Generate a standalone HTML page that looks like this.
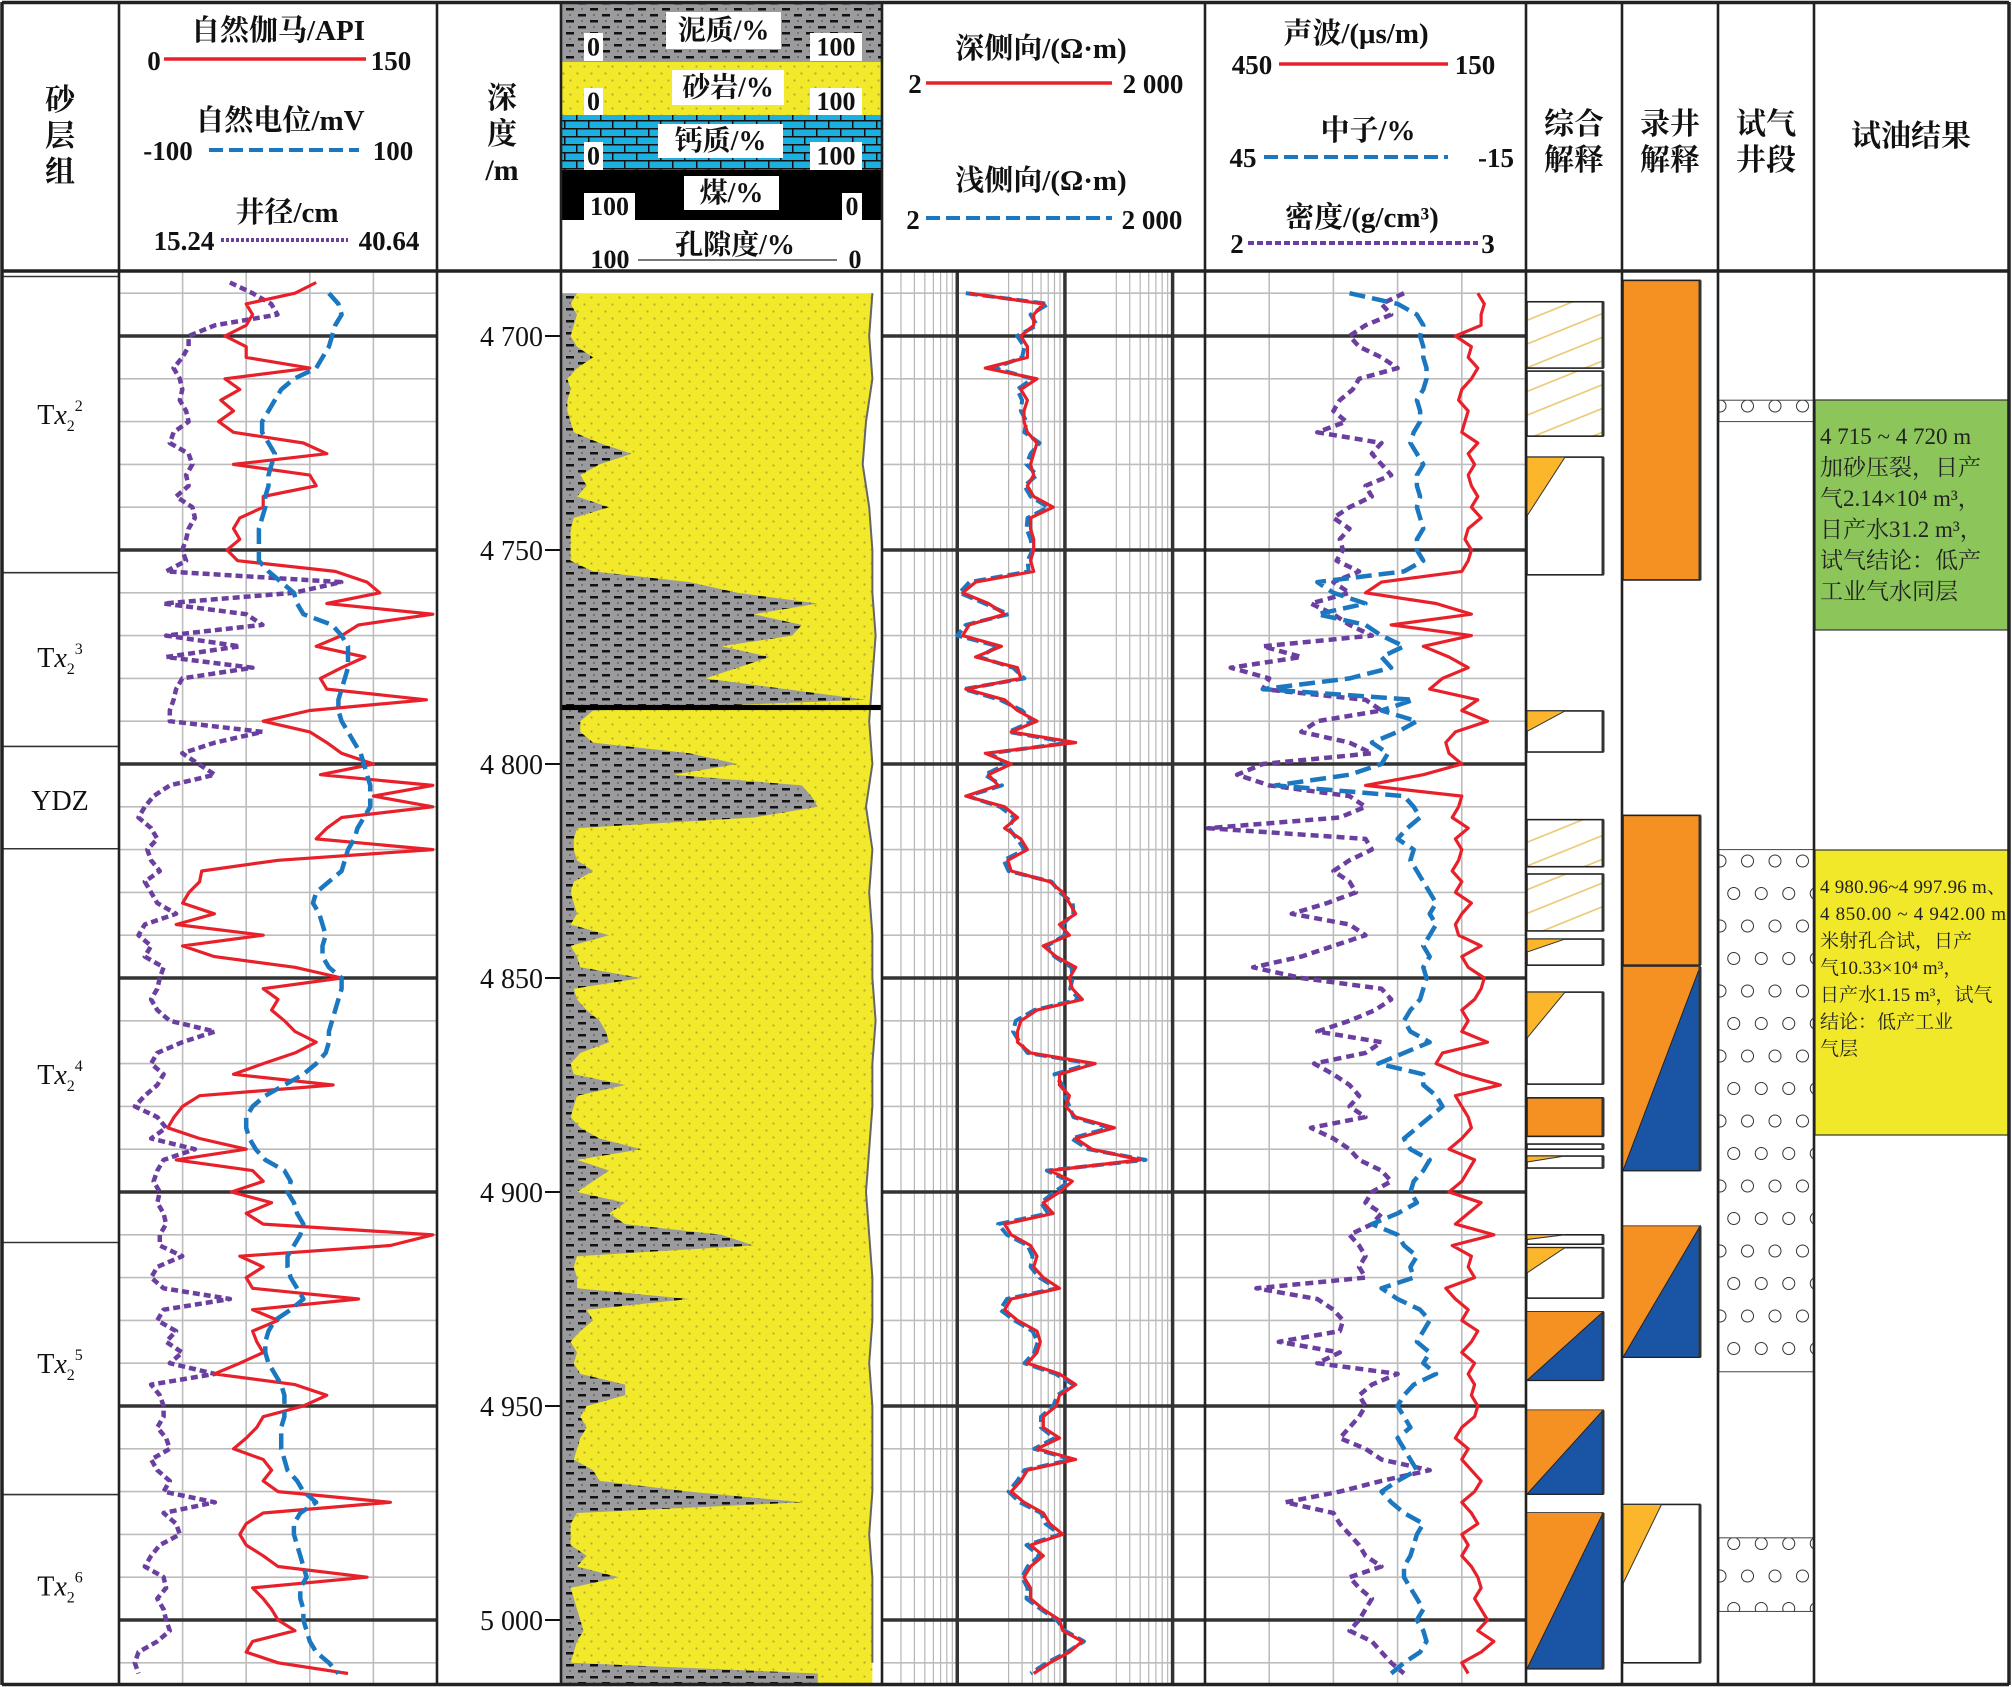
<!DOCTYPE html>
<html><head><meta charset="utf-8"><title>测井综合解释图</title>
<style>
html,body{margin:0;padding:0;background:#fff;}
svg{display:block;font-family:"Liberation Serif","Noto Serif CJK SC",serif;}
#headerLayer text{font-weight:bold;}
</style></head>
<body>
<svg id="chart" xmlns="http://www.w3.org/2000/svg" width="2012" height="1687" viewBox="0 0 2012 1687">
<defs>
<pattern id="shalePat" patternUnits="userSpaceOnUse" width="24" height="12"><rect width="24" height="12" fill="#9b9b9d"/><rect x="2" y="2" width="8" height="2.5" fill="#111"/><rect x="14" y="8" width="8" height="2.5" fill="#111"/><circle cx="18" cy="3" r="0.9" fill="#555"/><circle cx="6" cy="9" r="0.9" fill="#555"/></pattern>
<pattern id="sandPat" patternUnits="userSpaceOnUse" width="14" height="14"><rect width="14" height="14" fill="#f1e92a"/><circle cx="3.5" cy="3.5" r="1.1" fill="#b8a83a"/><circle cx="10.5" cy="10.5" r="1.1" fill="#b8a83a"/></pattern>
<pattern id="limePat" patternUnits="userSpaceOnUse" width="24" height="16"><rect width="24" height="16" fill="#1bb0e0"/><path d="M0 0.75H24M0 8.75H24M0.75 0V8M12.75 8V16" stroke="#111" stroke-width="1.5"/></pattern>
<pattern id="hatchPat" patternUnits="userSpaceOnUse" width="22" height="22" patternTransform="rotate(-22)"><rect width="22" height="22" fill="#fff"/><path d="M0 11H22" stroke="#e9c46a" stroke-width="1.5"/></pattern>
<pattern id="circPat" patternUnits="userSpaceOnUse" x="1720" y="0" width="27.5" height="65"><circle cx="0" cy="16" r="6" fill="none" stroke="#333" stroke-width="1"/><circle cx="27.5" cy="16" r="6" fill="none" stroke="#333" stroke-width="1"/><circle cx="13.75" cy="48.5" r="6" fill="none" stroke="#333" stroke-width="1"/></pattern>
<clipPath id="clipT1"><rect x="120" y="272" width="316" height="1411"/></clipPath>
<clipPath id="clipLith"><rect x="562" y="272" width="319" height="1411"/></clipPath>
<clipPath id="clipRes"><rect x="883" y="272" width="321" height="1411"/></clipPath>
<clipPath id="clipSon"><rect x="1206" y="272" width="319" height="1411"/></clipPath>
</defs>
<rect x="0" y="0" width="2012" height="1687" fill="#fff"/>
<g id="bodyLayer"></g>
<g id="headerLayer"></g>
</svg>
<script>
// ---- Sample grid (m) ----
const DEPTH_START = 4687.5;
const DEPTH_STEP = 2.5;
const DEPTH_TICKS = [4700, 4750, 4800, 4850, 4900, 4950, 5000];
const DEPTH_TICK_LABELS = ["4 700", "4 750", "4 800", "4 850", "4 900", "4 950", "5 000"];

// ---- Track 1 ----
const gammaRay = [93,83,60,63,60,50,60,60,90,50,57,48,54,47,54,87,98,54,90,93,68,68,57,54,57,51,56,102,117,123,98,148,113,105,93,116,105,95,98,145,90,68,90,98,105,120,95,148,120,148,105,98,93,148,75,39,38,33,30,45,27,68,30,45,83,105,68,75,72,78,83,93,83,68,54,101,38,30,26,23,38,60,27,63,68,53,72,60,68,148,128,57,68,60,63,113,63,75,63,65,68,57,45,83,98,87,68,65,60,54,68,72,68,75,128,68,60,57,60,68,75,117,63,68,72,75,83,63,60,75,108];
const spontPotential = [null,32,38,40,36,34,32,28,24,10,2,-2,-6,-10,-10,-6,-2,-4,-6,-6,-8,-8,-10,-12,-12,-12,-12,-6,2,10,12,16,34,40,44,44,44,42,40,38,38,40,44,48,52,54,56,58,58,58,54,50,48,44,42,40,32,24,22,26,28,30,28,28,32,40,40,38,36,34,32,32,30,24,16,4,-8,-16,-20,-20,-18,-14,-8,4,8,6,10,12,16,14,10,6,6,8,12,16,8,-2,-6,-8,-8,-6,-2,2,4,4,4,2,2,2,4,6,12,16,24,14,10,10,12,14,16,18,14,14,16,16,18,20,24,32,38];
const caliper = [24.1,25.9,27.4,27.9,22.9,20.8,20.8,20.3,19.6,20.1,20.3,20.1,20.6,20.8,19.6,19.3,20.8,21.1,20.6,20.8,19.8,21.1,21.3,20.8,20.6,20.3,20.6,19.0,33.0,29.2,18.8,25.4,26.7,19.0,24.9,19.0,25.9,20.3,19.8,19.6,19.3,19.3,26.7,22.9,20.3,21.6,22.9,19.3,18.0,17.3,16.8,17.8,18.3,17.5,17.8,18.5,17.3,17.8,18.3,19.8,17.3,16.8,17.8,17.3,18.8,18.5,18.3,17.8,18.3,19.3,22.9,20.3,18.3,17.8,18.8,18.3,17.3,16.5,18.3,19.0,17.8,21.3,18.8,18.3,18.0,18.5,18.3,18.8,19.0,18.5,18.5,20.3,18.3,17.8,18.8,24.1,18.8,18.3,19.8,19.0,20.3,19.3,22.9,17.8,18.5,18.8,18.8,18.3,19.0,19.3,17.8,18.3,19.3,18.8,22.9,18.8,19.8,20.1,18.5,17.8,17.3,18.8,19.0,18.3,18.8,19.0,19.3,18.3,16.8,16.5,16.8];

// ---- Lithology track ----
const shalePct = [null,5,3,5,4,3,5,10,5,2,3,2,2,3,4,12,22,12,6,8,5,15,4,3,3,3,3,10,40,55,80,60,75,72,50,65,55,45,70,95,10,6,6,10,40,55,35,75,78,80,60,5,4,4,5,10,4,3,4,5,3,15,3,5,6,25,4,5,8,12,14,15,6,3,4,20,5,4,3,6,12,25,5,15,10,5,20,15,20,50,60,5,4,5,5,40,8,10,6,3,5,4,6,20,20,8,6,8,6,5,4,10,12,40,75,5,3,3,3,8,5,18,3,4,5,6,7,5,4,3,80];
const POR_START = 4690;
const POR_STEP = 10;
const porosityPct = [3,4,3,5,6,4,3,3,2,3,4,3,5,3,4,3,3,2,3,3,4,5,4,3,3,4,3,3,3,4,3,3,3];
const coalBeds = [[4786.2, 4787.4]];

// ---- Resistivity (ohm.m) ----
const deepRes = [null,12.9,63,51.3,51.3,38.9,44.8,44.8,18.2,55,38.9,44.8,41.7,41.7,44.8,55,51.3,47.9,51.3,44.8,51.3,77.6,47.9,47.9,51.3,51.3,47.9,51.3,14.8,11.2,19.5,27.5,12.9,11.2,25.7,14.8,36.3,38.9,12,27.5,36.3,55,31.7,126,18.2,31.7,19.5,24,12,27.5,36.3,27.5,38.9,44.8,29.5,31.7,72.4,95.5,110,126,89,110,63,83,126,110,117,145,55,38.9,36.3,36.3,47.9,191,89,89,110,102,126,288,126,178,501,72.4,117,89,63,77.6,27.5,31.7,47.9,55,51.3,63,89,31.7,27.5,36.3,55,59,55,44.8,89,126,89,83,63,63,89,55,126,44.8,38.9,31.7,41.7,63,72.4,95.5,47.9,63,47.9,41.7,47.9,47.9,63,89,95.5,145,110,72.4,51.3];
const shallowRes = [null,12,70,48,55,36,42,40,22,50,36,40,39,44,42,58,48,44,55,42,48,70,45,44,48,50,45,46,13,10.5,18,30,12,10,24,16,33,42,11.5,25,40,50,30,110,20,29,18,26,12.5,25,34,30,36,42,27,30,75,90,118,120,95,100,68,80,115,118,112,135,52,35,33,38,45,175,80,95,100,110,120,260,115,165,560,68,110,80,60,70,24,29,45,50,48,58,84,29,25,34,50,56,52,42,82,120,85,78,60,60,80,52,115,42,36,30,38,60,66,90,44,58,45,40,45,44,60,84,100,150,105,68,48];

// ---- Sonic / neutron / density ----
const sonic = [null,195,189,192,192,216,201,204,195,201,210,213,204,207,210,195,204,198,204,201,195,201,192,204,207,201,204,210,285,300,234,201,276,201,246,222,204,228,240,195,210,186,216,225,222,210,246,300,210,213,219,204,216,210,213,219,210,216,201,210,216,213,192,210,204,189,192,198,210,204,210,186,228,234,210,174,216,210,204,201,210,222,198,204,210,222,192,204,216,180,219,201,204,198,225,216,204,210,195,201,210,198,204,198,201,195,198,210,216,204,210,201,192,198,210,201,195,210,204,210,201,195,192,198,192,186,195,180,192,210,204];
const neutron = [null,18,9,5.4,4.2,4.8,4.2,4.2,3.6,3.6,4.2,5.4,4.8,4.8,6,6.6,5.4,4.2,5.4,5.4,4.8,5.4,4.8,4.2,5.4,5.4,4.2,7.8,24,21,15,24,15,12,7.8,12,10.2,18,34.2,6,12,5.4,9,13.8,10.8,12,18,31.8,7.8,6,4.8,7.2,9,6,6.6,5.4,4.2,3,1.8,3,1.8,3,4.2,3,4.2,3.6,4.2,4.8,6.6,7.8,6.6,3,7.8,12.6,4.2,4.2,1.8,0.6,3,5.4,7.8,6.6,3,4.2,6,6.6,5.4,9,13.8,9,7.8,5.4,6.6,6,12,9,4.8,3,4.2,5.4,3,4.2,1.8,6,7.8,9,7.8,6.6,9,7.8,6.6,5.4,9,12,10.2,7.8,4.2,5.4,6,6.6,7.8,7.8,6.6,5.4,4.2,5.4,4.2,3.6,4.8,7.8,10.2];
const density = [null,2.62,2.55,2.58,2.50,2.45,2.48,2.55,2.60,2.48,2.46,2.42,2.40,2.44,2.35,2.55,2.52,2.55,2.58,2.50,2.52,2.45,2.40,2.45,2.42,2.43,2.41,2.48,2.40,2.45,2.33,2.40,2.45,2.52,2.18,2.30,2.08,2.20,2.18,2.50,2.55,2.35,2.30,2.45,2.52,2.18,2.10,2.20,2.45,2.50,2.42,2.01,2.50,2.52,2.45,2.40,2.45,2.47,2.38,2.27,2.45,2.50,2.40,2.30,2.15,2.30,2.55,2.58,2.53,2.45,2.35,2.55,2.50,2.34,2.40,2.45,2.48,2.45,2.50,2.33,2.40,2.45,2.48,2.55,2.58,2.52,2.50,2.55,2.52,2.45,2.48,2.50,2.48,2.50,2.16,2.35,2.40,2.43,2.42,2.23,2.42,2.35,2.60,2.52,2.48,2.50,2.48,2.45,2.42,2.50,2.55,2.70,2.55,2.42,2.25,2.40,2.42,2.45,2.48,2.50,2.55,2.45,2.48,2.52,2.50,2.48,2.45,2.52,2.55,2.58,2.62];

// ---- Interpretation columns: [top, bottom, type] ----
const compInterp = [[4692,4707.5,"hatch"],[4708.2,4723.4,"hatch"],[4728.3,4755.8,"tri"],[4787.6,4797.2,"tri"],[4813,4824,"hatch"],[4825.7,4839,"hatch"],[4840.9,4847,"tri"],[4853.3,4874.8,"tri"],[4878,4887,"orange"],[4888.8,4890,"white"],[4891.6,4894.4,"tri"],[4910,4912.2,"tri"],[4913,4924.8,"tri"],[4928,4944,"ob"],[4951,4970.6,"ob"],[4975,5011.4,"ob"]];
const mudLogInterp = [[4687,4757,"orange"],[4812,4847,"orange"],[4847.4,4895,"ob"],[4908,4938.6,"ob"],[4973,5010,"tri"]];
const gasTestIntervals = [[4715,4720],[4820,4942],[4980.8,4998]];
const layerTops = [4686.1, 4755.3, 4795.9, 4819.8, 4911.8, 4970.7];
const layerNames = [["Tx","2","2"],["Tx","2","3"],["YDZ","",""],["Tx","2","4"],["Tx","2","5"],["Tx","2","6"]];
const layerLabelDepths = [4718.2, 4775, 4808.4, 4872.4, 4939.9, 4991.9];

const NS = "http://www.w3.org/2000/svg";
const Y = d => 336 + (d - 4700) * 4.28;
const BODY_TOP = 271, BODY_BOT = 1684;
const depthAt = i => DEPTH_START + i * DEPTH_STEP;
const T1 = {x0:119, x1:437}, LITH = {x0:561, x1:882}, RES = {x0:882, x1:1205}, SON = {x0:1205, x1:1526};
const grX = v => T1.x0 + v / 150 * (T1.x1 - T1.x0);
const spX = v => T1.x0 + (v + 100) / 200 * (T1.x1 - T1.x0);
const calX = v => T1.x0 + (v - 15.24) / 25.4 * (T1.x1 - T1.x0);
const resX = v => RES.x0 + Math.log10(v / 2) / 3 * (RES.x1 - RES.x0);
const acX = v => SON.x0 + (450 - v) / 300 * (SON.x1 - SON.x0);
const cnlX = v => SON.x0 + (45 - v) / 60 * (SON.x1 - SON.x0);
const denX = v => SON.x0 + (v - 2) * (SON.x1 - SON.x0);
const shX = v => LITH.x0 + v / 100 * (LITH.x1 - LITH.x0);
const porX = v => LITH.x1 - v / 100 * (LITH.x1 - LITH.x0);

const body = document.getElementById('bodyLayer');
const head = document.getElementById('headerLayer');
function mk(tag, attrs, parent) {
  const e = document.createElementNS(NS, tag);
  for (const k in attrs) e.setAttribute(k, attrs[k]);
  (parent || body).appendChild(e);
  return e;
}
function txt(s, x, y, size, anchor, parent) {
  const t = mk('text', {x:x, y:y, 'font-size':size, 'text-anchor':anchor || 'middle', fill:'#111'}, parent);
  t.textContent = s;
  return t;
}
function curvePath(vals, xf) {
  let d = '';
  let pen = false;
  vals.forEach((v, i) => {
    if (v === null) { pen = false; return; }
    d += (pen ? 'L' : 'M') + xf(v).toFixed(1) + ' ' + Y(depthAt(i)).toFixed(1);
    pen = true;
  });
  return d;
}

// ---------- grids ----------
function hGrid(x0, x1, name) {
  for (let d = 4690; d <= 5010; d += 10) {
    const thick = d % 50 === 0;
    const l = mk('line', {x1:x0, x2:x1, y1:Y(d), y2:Y(d), stroke: thick ? '#333' : '#bdbdbd', 'stroke-width': thick ? 3.5 : 1.6});
    
    
  }
}
function vGrid(xs, name, color, w) {
  xs.forEach((x, i) => {
    const l = mk('line', {x1:x, x2:x, y1:BODY_TOP, y2:BODY_BOT, stroke:color, 'stroke-width':w});
    
    
  });
}
const t1w = (T1.x1 - T1.x0) / 5, sw = (SON.x1 - SON.x0) / 5;
vGrid([1,2,3,4].map(k => T1.x0 + k * t1w), 'track1', '#bdbdbd', 1.6);
vGrid([1,2,3,4].map(k => SON.x0 + k * sw), 'sonic-track', '#bdbdbd', 1.6);
const resMinor = [];
[2,20,200].forEach(b => { for (let m = 1.5; m <= 4.5; m += 0.5) { resMinor.push(b * m); } });
vGrid(resMinor.filter(v => v > 2 && v < 2000 && [10,100,1000].indexOf(v) < 0).map(resX), 'resistivity-track', '#b5b5b5', 1.2);
hGrid(T1.x0, T1.x1, 'track1');
hGrid(RES.x0, RES.x1, 'resistivity-track');
hGrid(SON.x0, SON.x1, 'sonic-track');
vGrid([10,100,1000].map(resX), 'resistivity-decade', '#333', 3.5);

// ---------- lithology ----------
const lithG = mk('g', {'clip-path':'url(#clipLith)'});


{
  let pts = [[LITH.x0, Y(POR_START)]];
  porosityPct.forEach((p, i) => pts.push([porX(p), Y(POR_START + i * POR_STEP)]));
  pts.push([porX(porosityPct[porosityPct.length - 1]), BODY_BOT]);
  pts.push([LITH.x0, BODY_BOT]);
  const sand = mk('polygon', {points: pts.map(p => p.join(',')).join(' '), fill:'url(#sandPat)'}, lithG);
  
  
  let pl = porosityPct.map((p, i) => porX(p).toFixed(1) + ',' + Y(POR_START + i * POR_STEP).toFixed(1)).join(' ');
  const porLine = mk('polyline', {points: pl, fill:'none', stroke:'#666', 'stroke-width':2}, lithG);
  
  
  let sp = [[LITH.x0, Y(4690)]];
  shalePct.forEach((v, i) => { if (v !== null) sp.push([shX(v), Y(depthAt(i))]); });
  sp.push([shX(shalePct[shalePct.length - 1]), BODY_BOT]);
  sp.push([LITH.x0, BODY_BOT]);
  const sh = mk('polygon', {points: sp.map(p => p[0].toFixed(1) + ',' + p[1].toFixed(1)).join(' '), fill:'url(#shalePat)'}, lithG);
  
  
  coalBeds.forEach((c, i) => {
    const r = mk('rect', {x:LITH.x0, y:Y(c[0]), width:LITH.x1 - LITH.x0, height:Y(c[1]) - Y(c[0]), fill:'#000'}, lithG);
    
    
  });
}

// ---------- curves ----------
function drawCurve(vals, xf, clip, color, width, dash, name) {
  const p = mk('path', {d: curvePath(vals, xf), fill:'none', stroke:color, 'stroke-width':width, 'stroke-dasharray':dash || 'none', 'stroke-linejoin':'round', 'clip-path':'url(#' + clip + ')'});
  
  
}
const RED = '#e8202a', BLUE = '#1b78c0', PURPLE = '#6b3fa0';
drawCurve(caliper, calX, 'clipT1', PURPLE, 4.5, '7 4', 'caliper-curve');
drawCurve(gammaRay, grX, 'clipT1', RED, 3.2, null, 'gamma-ray-curve');
drawCurve(spontPotential, spX, 'clipT1', BLUE, 4.5, '16 7', 'sp-curve');
drawCurve(shallowRes, resX, 'clipRes', BLUE, 4, '12 5', 'shallow-resistivity-curve');
drawCurve(deepRes, resX, 'clipRes', RED, 3.2, null, 'deep-resistivity-curve');
drawCurve(density, denX, 'clipSon', PURPLE, 4.5, '8 5', 'density-curve');
drawCurve(neutron, cnlX, 'clipSon', BLUE, 4.5, '16 7', 'neutron-curve');
drawCurve(sonic, acX, 'clipSon', RED, 3.2, null, 'sonic-curve');

// ---------- depth track ----------
DEPTH_TICKS.forEach((d, i) => {
  const t = txt(DEPTH_TICK_LABELS[i], 543, Y(d) + 10, 28, 'end');
  
  
  const l = mk('line', {x1:545, x2:561, y1:Y(d), y2:Y(d), stroke:'#111', 'stroke-width':2});
  
  
});

// ---------- formation column ----------
layerTops.forEach((d, i) => {
  const l = mk('line', {x1:2, x2:119, y1:Y(d), y2:Y(d), stroke:'#333', 'stroke-width':1.6});
  
  
});
layerNames.forEach((n, i) => {
  const y = Y(layerLabelDepths[i]) + 10;
  const t = mk('text', {x:60, y:y, 'font-size':28, 'text-anchor':'middle', fill:'#111'});
  
  
  if (n[1] === '') { t.textContent = n[0]; return; }
  const a = mk('tspan', {}, t); a.textContent = 'T';
  const b = mk('tspan', {'font-style':'italic'}, t); b.textContent = 'x';
  const c = mk('tspan', {'font-size':16, dy:7}, t); c.textContent = n[1];
  const e = mk('tspan', {'font-size':16, dy:-20, dx:0}, t); e.textContent = n[2];
});

// ---------- interpretation blocks ----------
function block(x0, x1, top, bot, type, name) {
  const y0 = Y(top), y1 = Y(bot), w = x1 - x0, h = y1 - y0;
  const g = mk('g', {});
  
  
  const fill = type === 'hatch' ? 'url(#hatchPat)' : type === 'orange' ? '#f49122' : '#fff';
  mk('rect', {x:x0, y:y0, width:w, height:h, fill:fill, stroke:'#222', 'stroke-width':1.6}, g);
  if (type === 'tri') {
    mk('polygon', {points: x0 + ',' + y0 + ' ' + (x0 + w / 2) + ',' + y0 + ' ' + x0 + ',' + (y0 + h / 2), fill:'#fbb62b', stroke:'#333', 'stroke-width':1}, g);
  }
  if (type === 'ob') {
    mk('polygon', {points: x0 + ',' + y0 + ' ' + x1 + ',' + y0 + ' ' + x0 + ',' + y1, fill:'#f49122'}, g);
    mk('polygon', {points: x1 + ',' + y0 + ' ' + x1 + ',' + y1 + ' ' + x0 + ',' + y1, fill:'#1a55a5', stroke:'#222', 'stroke-width':1}, g);
  }
  mk('line', {x1:x1, x2:x1, y1:y0, y2:y1, stroke:'#333', 'stroke-width':3}, g);
}
compInterp.forEach((b, i) => block(1527, 1603, b[0], b[1], b[2], 'comprehensive-interp-' + i));
mudLogInterp.forEach((b, i) => block(1623, 1700, b[0], b[1], b[2], 'mudlog-interp-' + i));
gasTestIntervals.forEach((b, i) => {
  const r = mk('rect', {x:1719, y:Y(b[0]), width:95, height:Y(b[1]) - Y(b[0]), fill:'url(#circPat)', stroke:'#444', 'stroke-width':1});
  
  
});

// ---------- test result boxes ----------
function resultBox(y0, y1, fill, lines, size, lh, firstY, name) {
  const g = mk('g', {});
  
  
  mk('rect', {x:1815, y:y0, width:193, height:y1 - y0, fill:fill, stroke:'#333', 'stroke-width':1.2}, g);
  lines.forEach((s, i) => {
    const t = mk('text', {x:1820, y:firstY + i * lh, 'font-size':size, 'text-anchor':'start', fill:'#222'}, g);
    t.textContent = s;
    if (s.length > 16) t.setAttribute('textLength', 186);
  });
}
resultBox(400, 630, '#8cc65a', ['4 715 ~ 4 720 m', '加砂压裂，日产', '气2.14×10⁴ m³，', '日产水31.2 m³，', '试气结论：低产', '工业气水同层'], 23, 31, 444, 'test-result-green');
resultBox(850, 1135, '#f2e82a', ['4 980.96~4 997.96 m、', '4 850.00 ~ 4 942.00 m', '米射孔合试，日产', '气10.33×10⁴ m³，', '日产水1.15 m³，试气', '结论：低产工业', '气层'], 19, 27, 893, 'test-result-yellow');

// ---------- header ----------
function hline(x1, x2, y, color, w, dash, name) {
  const l = mk('line', {x1:x1, x2:x2, y1:y, y2:y, stroke:color, 'stroke-width':w, 'stroke-dasharray':dash || 'none'}, head);
  
  
}
function htxt(s, x, y, size, anchor, name) {
  const t = txt(s, x, y, size, anchor, head);
  
  
  return t;
}
['砂', '层', '组'].forEach((c, i) => htxt(c, 60, 110 + i * 36, 30, 'middle', 'formation-header-' + i));
['深', '度', '/m'].forEach((c, i) => htxt(c, 502, 108 + i * 36, 30, 'middle', 'depth-header-' + i));
htxt('自然伽马/API', 278, 40, 29, 'middle', 'gr-title');
htxt('0', 154, 70, 27, 'middle', 'gr-min'); hline(164, 366, 59, RED, 3.5, null, 'gr-legend-line'); htxt('150', 391, 70, 27, 'middle', 'gr-max');
htxt('自然电位/mV', 280, 130, 29, 'middle', 'sp-title');
htxt('-100', 168, 160, 27, 'middle', 'sp-min'); hline(209, 359, 150, BLUE, 4, '14 6', 'sp-legend-line'); htxt('100', 393, 160, 27, 'middle', 'sp-max');
htxt('井径/cm', 287, 222, 29, 'middle', 'cal-title');
htxt('15.24', 184, 250, 27, 'middle', 'cal-min'); hline(221, 348, 240, PURPLE, 4, '3 2', 'cal-legend-line'); htxt('40.64', 389, 250, 27, 'middle', 'cal-max');

const bands = [[4, 62, 'url(#shalePat)', 'shale'], [62, 115, 'url(#sandPat)', 'sand'], [115, 170, 'url(#limePat)', 'lime'], [170, 220, '#000', 'coal']];
bands.forEach(b => {
  const r = mk('rect', {x:LITH.x0, y:b[0], width:LITH.x1 - LITH.x0, height:b[1] - b[0], fill:b[2]}, head);
  
  
});
function labelBox(s, x0, x1, y0, y1, size, name) {
  mk('rect', {x:x0, y:y0, width:x1 - x0, height:y1 - y0, fill:'#fff'}, head);
  htxt(s, (x0 + x1) / 2, y1 - (y1 - y0 - size * 0.72) / 2 - 1, size, 'middle', name);
}
labelBox('泥质/%', 666, 781, 12, 49, 28, 'shale-label'); labelBox('0', 584, 603, 33, 61, 26, 'shale-min'); labelBox('100', 810, 862, 33, 61, 26, 'shale-max');
labelBox('砂岩/%', 672, 784, 70, 105, 28, 'sand-label'); labelBox('0', 584, 603, 88, 115, 26, 'sand-min'); labelBox('100', 810, 862, 88, 115, 26, 'sand-max');
labelBox('钙质/%', 658, 783, 124, 158, 28, 'lime-label'); labelBox('0', 584, 603, 142, 170, 26, 'lime-min'); labelBox('100', 810, 862, 142, 170, 26, 'lime-max');
labelBox('煤/%', 684, 779, 176, 210, 28, 'coal-label'); labelBox('100', 584, 635, 193, 220, 26, 'coal-min'); labelBox('0', 842, 862, 193, 220, 26, 'coal-max');
htxt('100', 610, 268, 26, 'middle', 'porosity-min'); hline(638, 837, 260, '#777', 2, null, 'porosity-legend-line'); htxt('孔隙度/%', 735, 254, 28, 'middle', 'porosity-label'); htxt('0', 855, 268, 26, 'middle', 'porosity-max');

htxt('深侧向/(Ω·m)', 1041, 58, 29, 'middle', 'deep-res-title');
htxt('2', 915, 93, 27, 'middle', 'deep-res-min'); hline(926, 1112, 83, RED, 3.5, null, 'deep-res-legend-line'); htxt('2 000', 1153, 93, 27, 'middle', 'deep-res-max');
htxt('浅侧向/(Ω·m)', 1041, 190, 29, 'middle', 'shallow-res-title');
htxt('2', 913, 229, 27, 'middle', 'shallow-res-min'); hline(926, 1112, 218, BLUE, 4, '14 6', 'shallow-res-legend-line'); htxt('2 000', 1152, 229, 27, 'middle', 'shallow-res-max');

htxt('声波/(μs/m)', 1356, 43, 29, 'middle', 'sonic-title');
htxt('450', 1252, 74, 27, 'middle', 'sonic-min'); hline(1279, 1448, 64, RED, 3.5, null, 'sonic-legend-line'); htxt('150', 1475, 74, 27, 'middle', 'sonic-max');
htxt('中子/%', 1368, 140, 29, 'middle', 'neutron-title');
htxt('45', 1243, 167, 27, 'middle', 'neutron-min'); hline(1264, 1448, 157, BLUE, 4, '14 6', 'neutron-legend-line'); htxt('-15', 1496, 167, 27, 'middle', 'neutron-max');
htxt('密度/(g/cm³)', 1362, 227, 29, 'middle', 'density-title');
htxt('2', 1237, 253, 27, 'middle', 'density-min'); hline(1248, 1478, 243, PURPLE, 4, '6 3', 'density-legend-line'); htxt('3', 1488, 253, 27, 'middle', 'density-max');

htxt('综合', 1574, 134, 30, 'middle', 'comp-interp-header-1'); htxt('解释', 1574, 170, 30, 'middle', 'comp-interp-header-2');
htxt('录井', 1670, 134, 30, 'middle', 'mudlog-header-1'); htxt('解释', 1670, 170, 30, 'middle', 'mudlog-header-2');
htxt('试气', 1766, 134, 30, 'middle', 'gas-test-header-1'); htxt('井段', 1766, 170, 30, 'middle', 'gas-test-header-2');
htxt('试油结果', 1911, 146, 30, 'middle', 'test-result-header');

// ---------- frame ----------
[2, 119, 437, 561, 882, 1205, 1526, 1622, 1718, 1814, 2009].forEach((x, i) => {
  const l = mk('line', {x1:x, x2:x, y1:2, y2:1685, stroke:'#222', 'stroke-width': (i === 0 || i === 10) ? 3.5 : 2.6}, head);
  
  
});
hline(2, 2009, 2.5, '#222', 3.5, null, 'frame-top');
hline(2, 2009, 271, '#222', 3.5, null, 'header-bottom-line');
hline(2, 2009, 1684.5, '#222', 3.5, null, 'frame-bottom');
</script>
</body></html>
